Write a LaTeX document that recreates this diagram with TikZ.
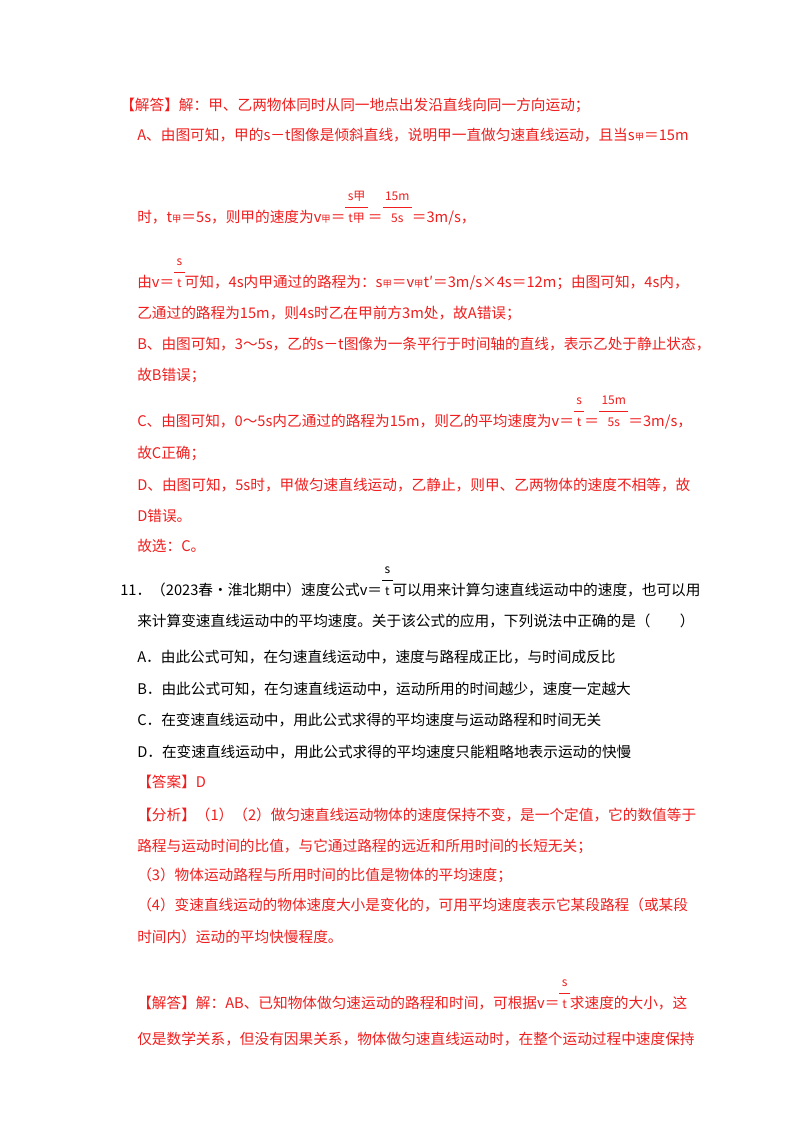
\documentclass[tikz,border=0pt]{standalone}
\usepackage{fontspec}
\setmainfont{Noto Sans CJK SC}
\definecolor{ans}{RGB}{240,30,30}
\newcommand\fr[2]{$\renewcommand\arraystretch{1.2}\begin{array}[b]{@{\,}c@{\,}}\mbox{\small #1}\\\hline\mbox{\small #2}\end{array}$}
\newcommand\jia{{\scriptsize 甲}}
\begin{document}
\begin{tikzpicture}[x=0.75pt,y=-0.75pt,
  ln/.style={anchor=base west,inner sep=0pt,font=\fontsize{11}{13}\selectfont,text=ans},
  bk/.style={ln,text=black}]
\useasboundingbox[fill=white] (0,0) rectangle (800,1132);
\node[ln] (l1) at (120,110) {【解答】解：甲、乙两物体同时从同一地点出发沿直线向同一方向运动；};
\node[ln] (l2) at (137,140) {A、由图可知，甲的s－t图像是倾斜直线，说明甲一直做匀速直线运动，且当s\jia＝15m};
\node[ln] (l3) at (137,222) {时，t\jia＝5s，则甲的速度为v\jia＝\fr{s甲}{t甲}＝\fr{15m}{5s}＝3m/s，};
\node[ln] (l4) at (137,287) {由v＝\fr{s}{t}可知，4s内甲通过的路程为：s\jia＝v\jia t′＝3m/s×4s＝12m；由图可知，4s内，};
\node[ln] (l5) at (137,318) {乙通过的路程为15m，则4s时乙在甲前方3m处，故A错误；};
\node[ln] (l6) at (137,349) {B、由图可知，3～5s，乙的s－t图像为一条平行于时间轴的直线，表示乙处于静止状态，};
\node[ln] (l7) at (137,380) {故B错误；};
\node[ln] (l8) at (137,426) {C、由图可知，0～5s内乙通过的路程为15m，则乙的平均速度为v＝\fr{s}{t}＝\fr{15m}{5s}＝3m/s，};
\node[ln] (l9) at (137,458) {故C正确；};
\node[ln] (l10) at (137,490) {D、由图可知，5s时，甲做匀速直线运动，乙静止，则甲、乙两物体的速度不相等，故};
\node[ln] (l11) at (137,521) {D错误。};
\node[ln] (l12) at (137,551) {故选：C。};
\node[bk] (q1) at (120,595) {11．（2023春•淮北期中）速度公式v＝\fr{s}{t}可以用来计算匀速直线运动中的速度，也可以用};
\node[bk] (q2) at (137,626) {来计算变速直线运动中的平均速度。关于该公式的应用，下列说法中正确的是（　　）};
\node[bk] (qa) at (137,662) {A．由此公式可知，在匀速直线运动中，速度与路程成正比，与时间成反比};
\node[bk] (qb) at (137,694) {B．由此公式可知，在匀速直线运动中，运动所用的时间越少，速度一定越大};
\node[bk] (qc) at (137,725) {C．在变速直线运动中，用此公式求得的平均速度与运动路程和时间无关};
\node[bk] (qd) at (137,757) {D．在变速直线运动中，用此公式求得的平均速度只能粗略地表示运动的快慢};
\node[ln] (a1) at (137,787) {【答案】D};
\node[ln] (f1) at (137,820) {【分析】（1）（2）做匀速直线运动物体的速度保持不变，是一个定值，它的数值等于};
\node[ln] (f2) at (137,851) {路程与运动时间的比值，与它通过路程的远近和所用时间的长短无关；};
\node[ln] (f3) at (137,880) {（3）物体运动路程与所用时间的比值是物体的平均速度；};
\node[ln] (f4) at (137,910) {（4）变速直线运动的物体速度大小是变化的，可用平均速度表示它某段路程（或某段};
\node[ln] (f5) at (137,942) {时间内）运动的平均快慢程度。};
\node[ln] (j1) at (137,1008) {【解答】解：AB、已知物体做匀速运动的路程和时间，可根据v＝\fr{s}{t}求速度的大小，这};
\node[ln] (j2) at (137,1044) {仅是数学关系，但没有因果关系，物体做匀速直线运动时，在整个运动过程中速度保持};
\end{tikzpicture}
\end{document}
